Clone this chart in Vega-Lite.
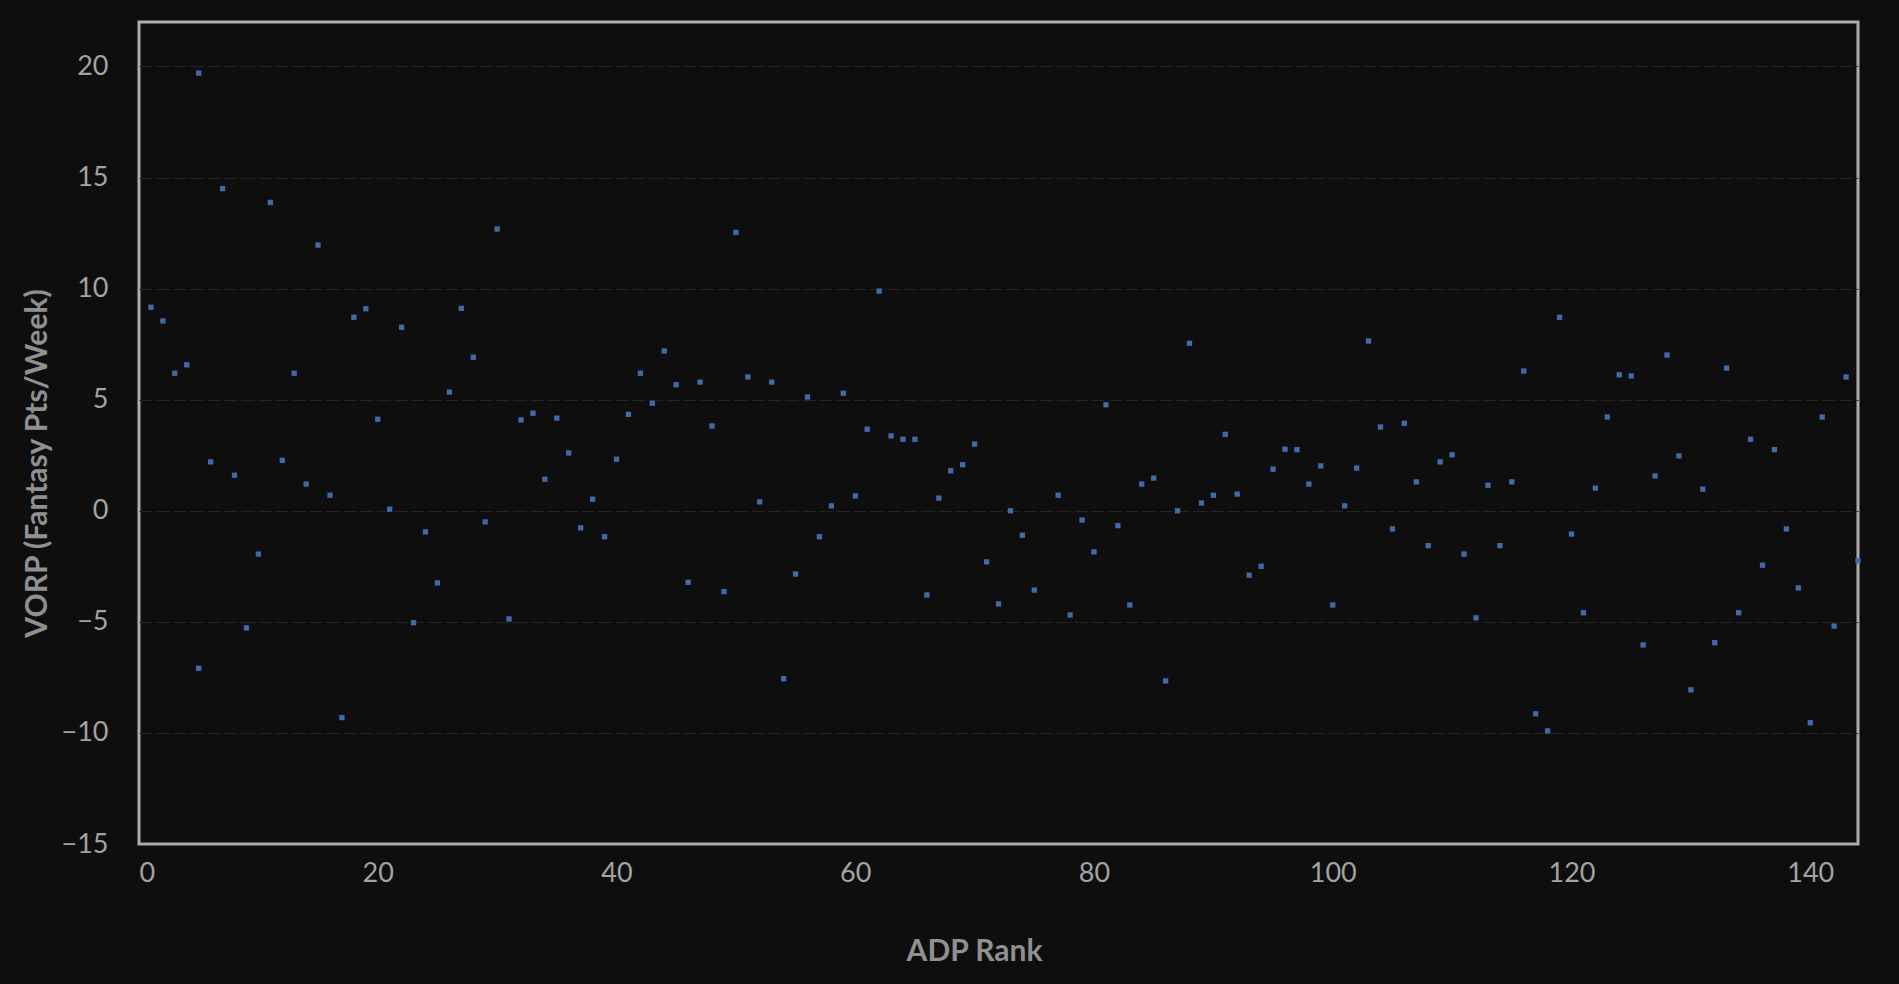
{
  "$schema": "https://vega.github.io/schema/vega-lite/v6.json",
  "width": 1719,
  "height": 822,
  "autosize": {"type": "none"},
  "padding": {"left": 139, "top": 22, "right": 41, "bottom": 140},
  "background": "#0e0e0e",
  "data": {
    "values": [
      {"rank": 1, "vorp": 9.16}, {"rank": 2, "vorp": 8.54}, {"rank": 3, "vorp": 6.19}, {"rank": 4, "vorp": 6.57},
      {"rank": 5, "vorp": 19.70}, {"rank": 5, "vorp": -7.09}, {"rank": 6, "vorp": 2.20}, {"rank": 7, "vorp": 14.50},
      {"rank": 8, "vorp": 1.60}, {"rank": 9, "vorp": -5.27}, {"rank": 10, "vorp": -1.95}, {"rank": 11, "vorp": 13.88},
      {"rank": 12, "vorp": 2.27}, {"rank": 13, "vorp": 6.19}, {"rank": 14, "vorp": 1.20}, {"rank": 15, "vorp": 11.96},
      {"rank": 16, "vorp": 0.70}, {"rank": 17, "vorp": -9.31}, {"rank": 18, "vorp": 8.71}, {"rank": 19, "vorp": 9.09},
      {"rank": 20, "vorp": 4.12}, {"rank": 21, "vorp": 0.07}, {"rank": 22, "vorp": 8.26}, {"rank": 23, "vorp": -5.04},
      {"rank": 24, "vorp": -0.95}, {"rank": 25, "vorp": -3.25}, {"rank": 26, "vorp": 5.34}, {"rank": 27, "vorp": 9.11},
      {"rank": 28, "vorp": 6.91}, {"rank": 29, "vorp": -0.50}, {"rank": 30, "vorp": 12.68}, {"rank": 31, "vorp": -4.87},
      {"rank": 32, "vorp": 4.09}, {"rank": 33, "vorp": 4.39}, {"rank": 34, "vorp": 1.42}, {"rank": 35, "vorp": 4.17},
      {"rank": 36, "vorp": 2.60}, {"rank": 37, "vorp": -0.77}, {"rank": 38, "vorp": 0.52}, {"rank": 39, "vorp": -1.17},
      {"rank": 40, "vorp": 2.32}, {"rank": 41, "vorp": 4.34}, {"rank": 42, "vorp": 6.19}, {"rank": 43, "vorp": 4.84},
      {"rank": 44, "vorp": 7.19}, {"rank": 45, "vorp": 5.67}, {"rank": 46, "vorp": -3.22}, {"rank": 47, "vorp": 5.79},
      {"rank": 48, "vorp": 3.82}, {"rank": 49, "vorp": -3.64}, {"rank": 50, "vorp": 12.53}, {"rank": 51, "vorp": 6.02},
      {"rank": 52, "vorp": 0.40}, {"rank": 53, "vorp": 5.79}, {"rank": 54, "vorp": -7.56}, {"rank": 55, "vorp": -2.85},
      {"rank": 56, "vorp": 5.12}, {"rank": 57, "vorp": -1.17}, {"rank": 58, "vorp": 0.22}, {"rank": 59, "vorp": 5.29},
      {"rank": 60, "vorp": 0.67}, {"rank": 61, "vorp": 3.67}, {"rank": 62, "vorp": 9.89}, {"rank": 63, "vorp": 3.37},
      {"rank": 64, "vorp": 3.22}, {"rank": 65, "vorp": 3.22}, {"rank": 66, "vorp": -3.79}, {"rank": 67, "vorp": 0.57},
      {"rank": 68, "vorp": 1.80}, {"rank": 69, "vorp": 2.07}, {"rank": 70, "vorp": 3.00}, {"rank": 71, "vorp": -2.30},
      {"rank": 72, "vorp": -4.19}, {"rank": 73, "vorp": 0.00}, {"rank": 74, "vorp": -1.10}, {"rank": 75, "vorp": -3.57},
      {"rank": 77, "vorp": 0.70}, {"rank": 78, "vorp": -4.69}, {"rank": 79, "vorp": -0.42}, {"rank": 80, "vorp": -1.85},
      {"rank": 81, "vorp": 4.77}, {"rank": 82, "vorp": -0.67}, {"rank": 83, "vorp": -4.24}, {"rank": 84, "vorp": 1.20},
      {"rank": 85, "vorp": 1.47}, {"rank": 86, "vorp": -7.66}, {"rank": 87, "vorp": 0.00}, {"rank": 88, "vorp": 7.54},
      {"rank": 89, "vorp": 0.35}, {"rank": 90, "vorp": 0.70}, {"rank": 91, "vorp": 3.44}, {"rank": 92, "vorp": 0.75},
      {"rank": 93, "vorp": -2.90}, {"rank": 94, "vorp": -2.50}, {"rank": 95, "vorp": 1.87}, {"rank": 96, "vorp": 2.77},
      {"rank": 97, "vorp": 2.75}, {"rank": 98, "vorp": 1.20}, {"rank": 99, "vorp": 2.02}, {"rank": 100, "vorp": -4.24},
      {"rank": 101, "vorp": 0.22}, {"rank": 102, "vorp": 1.92}, {"rank": 103, "vorp": 7.64}, {"rank": 104, "vorp": 3.77},
      {"rank": 105, "vorp": -0.82}, {"rank": 106, "vorp": 3.94}, {"rank": 107, "vorp": 1.30}, {"rank": 108, "vorp": -1.57},
      {"rank": 109, "vorp": 2.20}, {"rank": 110, "vorp": 2.52}, {"rank": 111, "vorp": -1.95}, {"rank": 112, "vorp": -4.82},
      {"rank": 113, "vorp": 1.15}, {"rank": 114, "vorp": -1.57}, {"rank": 115, "vorp": 1.30}, {"rank": 116, "vorp": 6.29},
      {"rank": 117, "vorp": -9.14}, {"rank": 118, "vorp": -9.91}, {"rank": 119, "vorp": 8.71}, {"rank": 120, "vorp": -1.05},
      {"rank": 121, "vorp": -4.59}, {"rank": 122, "vorp": 1.02}, {"rank": 123, "vorp": 4.22}, {"rank": 124, "vorp": 6.12},
      {"rank": 125, "vorp": 6.07}, {"rank": 126, "vorp": -6.04}, {"rank": 127, "vorp": 1.57}, {"rank": 128, "vorp": 7.01},
      {"rank": 129, "vorp": 2.47}, {"rank": 130, "vorp": -8.06}, {"rank": 131, "vorp": 0.97}, {"rank": 132, "vorp": -5.94},
      {"rank": 133, "vorp": 6.42}, {"rank": 134, "vorp": -4.59}, {"rank": 135, "vorp": 3.22}, {"rank": 136, "vorp": -2.45},
      {"rank": 137, "vorp": 2.75}, {"rank": 138, "vorp": -0.82}, {"rank": 139, "vorp": -3.47}, {"rank": 140, "vorp": -9.54},
      {"rank": 141, "vorp": 4.22}, {"rank": 142, "vorp": -5.19}, {"rank": 143, "vorp": 6.02}, {"rank": 144, "vorp": -2.25}
    ]
  },
  "mark": {"type": "square", "filled": true, "size": 28, "color": "#3e6ca8", "opacity": 1},
  "encoding": {
    "x": {
      "field": "rank", "type": "quantitative",
      "scale": {"domain": [0, 144], "nice": false, "zero": false},
      "axis": {
        "values": [0, 20, 40, 60, 80, 100, 120, 140],
        "grid": false, "domain": false, "ticks": false,
        "labelFont": "Lato", "labelFontSize": 27, "labelColor": "#a3a3a3", "labelPadding": 16,
        "title": "ADP Rank", "titleFont": "Lato", "titleFontSize": 30, "titleFontWeight": "bold",
        "titleColor": "#909090", "titleX": 835, "titleY": 107, "titleBaseline": "middle", "titleAlign": "center"
      }
    },
    "y": {
      "field": "vorp", "type": "quantitative",
      "scale": {"domain": [-15, 22], "nice": false, "zero": false},
      "axis": {
        "values": [-15, -10, -5, 0, 5, 10, 15, 20],
        "grid": true, "gridColor": "#242424", "gridDash": [13, 4], "gridWidth": 1.2,
        "gridOpacity": {"condition": {"test": "datum.value <= -15", "value": 0}, "value": 1},
        "domain": false, "ticks": false,
        "labelFont": "Lato", "labelFontSize": 27, "labelColor": "#a3a3a3", "labelPadding": 31,
        "title": "VORP (Fantasy Pts/Week)", "titleFont": "Lato", "titleFontSize": 30, "titleFontWeight": "bold",
        "titleColor": "#909090", "titleX": -102, "titleY": 441, "titleAngle": -90,
        "titleBaseline": "middle", "titleAlign": "center"
      }
    }
  },
  "config": {
    "view": {"stroke": "#acacac", "strokeWidth": 3, "fill": "#0e0e0e"}
  }
}
